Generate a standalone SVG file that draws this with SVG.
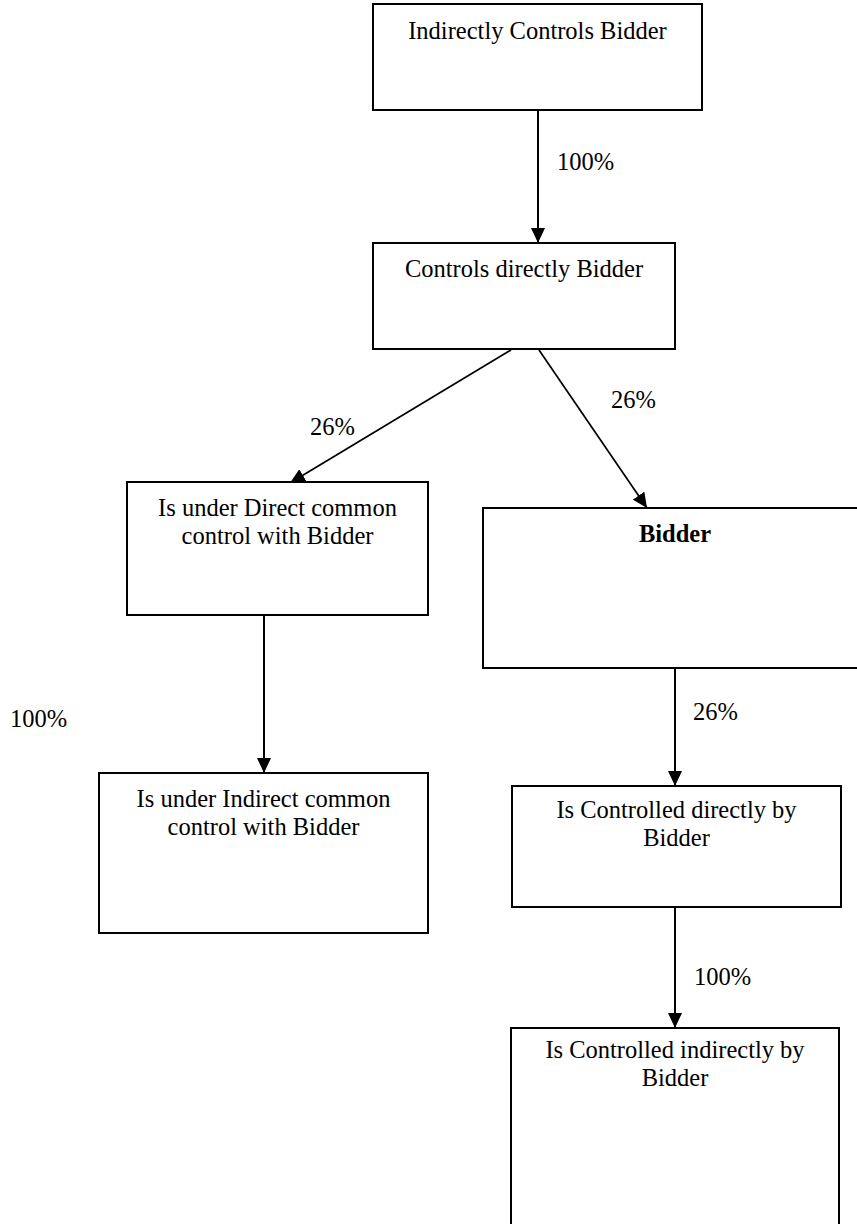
<svg xmlns="http://www.w3.org/2000/svg" width="857" height="1224" viewBox="0 0 857 1224">
<style>
  .box { fill: #ffffff; stroke: #000000; stroke-width: 2; }
  .t { font-family: "Liberation Serif", "Times New Roman", serif; font-size: 24.5px; fill: #000000; }
  .c { text-anchor: middle; }
  .b { font-weight: bold; }
  .edge { stroke: #000000; stroke-width: 2; fill: none; marker-end: url(#arr); }
  .diag { stroke-width: 1.7; }
</style>
<defs>
  <marker id="arr" markerUnits="userSpaceOnUse" markerWidth="16" markerHeight="14" refX="15" refY="7" orient="auto">
    <path d="M0,0 L15,7 L0,14 z" fill="#000000"/>
  </marker>
</defs>
<rect x="0" y="0" width="857" height="1224" fill="#ffffff"/>
<g id="connectors">
  <line class="edge" x1="538" y1="110" x2="538" y2="243"/>
  <line class="edge diag" x1="511" y1="350" x2="290" y2="483"/>
  <line class="edge diag" x1="539" y1="350" x2="647" y2="508"/>
  <line class="edge" x1="264" y1="615" x2="264" y2="773"/>
  <line class="edge" x1="675" y1="668" x2="675" y2="786"/>
  <line class="edge" x1="675" y1="907" x2="675" y2="1028"/>
</g>
<g id="labels">
  <text class="t" x="557" y="170">100%</text>
  <text class="t" x="310" y="435">26%</text>
  <text class="t" x="611" y="408">26%</text>
  <text class="t" x="10" y="727">100%</text>
  <text class="t" x="693" y="720">26%</text>
  <text class="t" x="694" y="985">100%</text>
</g>
<g id="node-indirectly-controls">
  <rect class="box" x="373" y="4" width="329" height="106"/>
  <text class="t c" x="537.5" y="39">Indirectly Controls Bidder</text>
</g>
<g id="node-controls-directly">
  <rect class="box" x="373" y="243" width="302" height="106"/>
  <text class="t c" x="524" y="277">Controls directly Bidder</text>
</g>
<g id="node-direct-common">
  <rect class="box" x="127" y="482" width="301" height="133"/>
  <text class="t c" x="277.5" y="516">Is under Direct common</text>
  <text class="t c" x="277.5" y="544">control with Bidder</text>
</g>
<g id="node-bidder">
  <rect class="box" x="483" y="508" width="400" height="160"/>
  <text class="t c b" x="675" y="542">Bidder</text>
</g>
<g id="node-indirect-common">
  <rect class="box" x="99" y="773" width="329" height="160"/>
  <text class="t c" x="263.5" y="807">Is under Indirect common</text>
  <text class="t c" x="263.5" y="835">control with Bidder</text>
</g>
<g id="node-controlled-directly">
  <rect class="box" x="512" y="786" width="329" height="121"/>
  <text class="t c" x="676.5" y="818">Is Controlled directly by</text>
  <text class="t c" x="676.5" y="846">Bidder</text>
</g>
<g id="node-controlled-indirectly">
  <rect class="box" x="511" y="1028" width="328" height="220"/>
  <text class="t c" x="675" y="1058">Is Controlled indirectly by</text>
  <text class="t c" x="675" y="1086">Bidder</text>
</g>
</svg>
